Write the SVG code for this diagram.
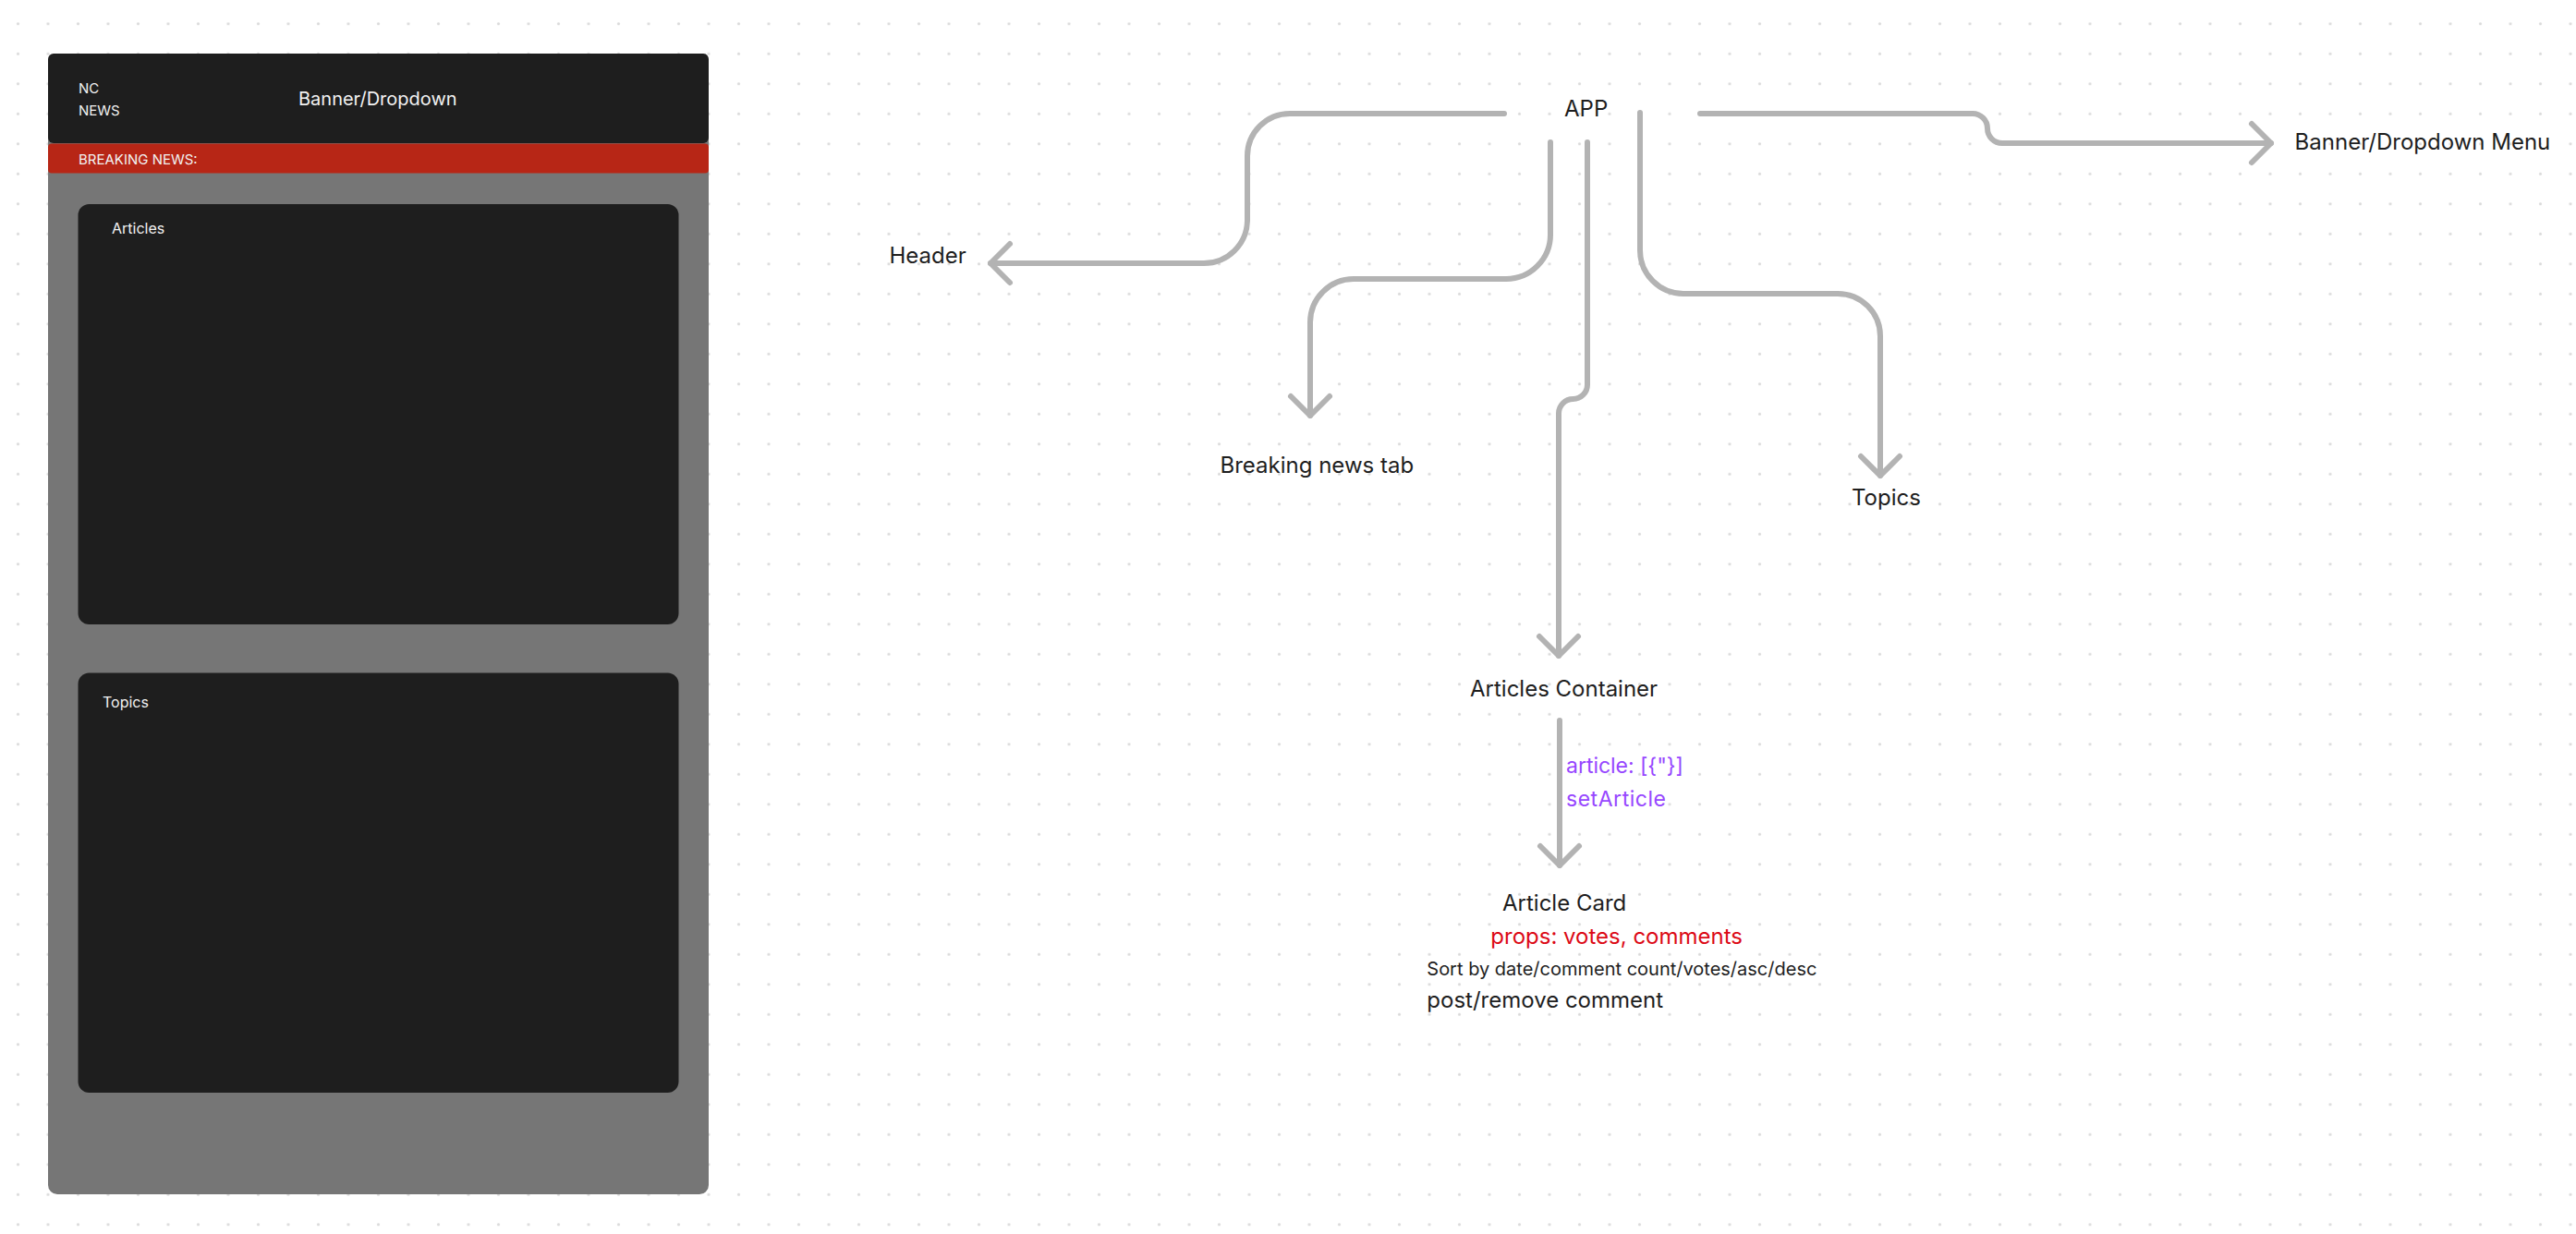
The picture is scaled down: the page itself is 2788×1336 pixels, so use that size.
<svg xmlns="http://www.w3.org/2000/svg" width="2788" height="1336" viewBox="0 0 2788 1336">
  <style>
    text { font-family: Inter, "Noto Sans", "Liberation Sans", sans-serif; }
    .lbl { font-size: 24px; fill: #1e1e1e; }
    .small { font-size: 20px; fill: #1e1e1e; }
    .ui { fill: #f2f2f2; }
    .conn { fill: none; stroke: #b3b3b3; stroke-width: 6; stroke-linecap: round; stroke-linejoin: round; }
    .purple { font-size: 23px; fill: #9747ff; }
    .red { font-size: 24px; fill: #dc0a16; }
  </style>
  <defs>
    <pattern id="dots" x="3.25" y="9.5" width="32.5" height="32.5" patternUnits="userSpaceOnUse">
      <circle cx="16.25" cy="16.25" r="1.6" fill="#dadada"/>
    </pattern>
    <marker id="ah" markerUnits="userSpaceOnUse" viewBox="0 0 60 60" markerWidth="60" markerHeight="60" refX="30" refY="30" orient="auto" overflow="visible">
      <path d="M9 9 L30 30 L9 51" fill="none" stroke="#b3b3b3" stroke-width="6" stroke-linecap="round" stroke-linejoin="round"/>
    </marker>
  </defs>

  <rect width="2788" height="1336" fill="#ffffff"/>
  <rect width="2788" height="1336" fill="url(#dots)"/>

  <g id="mockup">
    <rect x="52" y="58" width="715" height="1235" rx="10" fill="#767676"/>
    <rect x="52" y="58" width="715" height="97" rx="6" fill="#1e1e1e"/>
    <rect x="52" y="155.5" width="715" height="32" rx="4" fill="#b72616"/>
    <text class="ui" x="85" y="101" font-size="15">NC</text>
    <text class="ui" x="85" y="125" font-size="15">NEWS</text>
    <text class="ui" x="323" y="114" font-size="20">Banner/Dropdown</text>
    <text class="ui" x="85" y="177.5" font-size="15">BREAKING NEWS:</text>
    <g id="mock-articles">
      <rect x="84.5" y="221" width="650" height="455" rx="12" fill="#1e1e1e"/>
      <text class="ui" x="121" y="252.7" font-size="16">Articles</text>
    </g>
    <g id="mock-topics">
      <rect x="84.5" y="728.5" width="650" height="454.5" rx="12" fill="#1e1e1e"/>
      <text class="ui" x="111" y="765.7" font-size="16">Topics</text>
    </g>
  </g>

  <g id="connectors">
    <path class="conn" marker-end="url(#ah)" d="M1628 123 H1396 A46 46 0 0 0 1350 169 V239 A47 47 0 0 1 1303 285 H1072"/>
    <path class="conn" marker-end="url(#ah)" d="M1678 154 V254 A48 48 0 0 1 1630 302 H1465 A47 47 0 0 0 1418 349 V450"/>
    <path class="conn" marker-end="url(#ah)" d="M1718 154 V416.5 A15.5 15.5 0 0 1 1702.5 432 A15.5 15.5 0 0 0 1687 447.5 V710"/>
    <path class="conn" marker-end="url(#ah)" d="M1775 122 V271 A47 47 0 0 0 1822 318 H1989 A46 46 0 0 1 2035 364 V515"/>
    <path class="conn" marker-end="url(#ah)" d="M1840 123 H2135 A16 16 0 0 1 2151 139 A16 16 0 0 0 2167 155 H2458"/>
    <path class="conn" marker-end="url(#ah)" d="M1688 780 V937"/>
  </g>

  <g id="app"><text class="lbl" x="1693" y="126">APP</text></g>
  <g id="header"><text class="lbl" x="962.5" y="285">Header</text></g>
  <g id="breaking-news-tab"><text class="lbl" x="1320.5" y="511.7">Breaking news tab</text></g>
  <g id="topics"><text class="lbl" x="2004" y="547">Topics</text></g>
  <g id="banner-menu"><text class="lbl" x="2483.6" y="161.7">Banner/Dropdown Menu</text></g>
  <g id="articles-container"><text class="lbl" x="1591" y="754">Articles Container</text></g>
  <g id="state-label">
    <text class="purple" x="1695" y="836.7" textLength="127">article: [{"}]</text>
    <text class="purple" x="1695" y="873.3" textLength="108">setArticle</text>
  </g>
  <g id="article-card">
    <text class="lbl" x="1626" y="985.7">Article Card</text>
    <text class="red" x="1613.3" y="1021.7">props: votes, comments</text>
    <text class="small" x="1544.3" y="1056">Sort by date/comment count/votes/asc/desc</text>
    <text class="lbl" x="1544.3" y="1090.7">post/remove comment</text>
  </g>
</svg>
